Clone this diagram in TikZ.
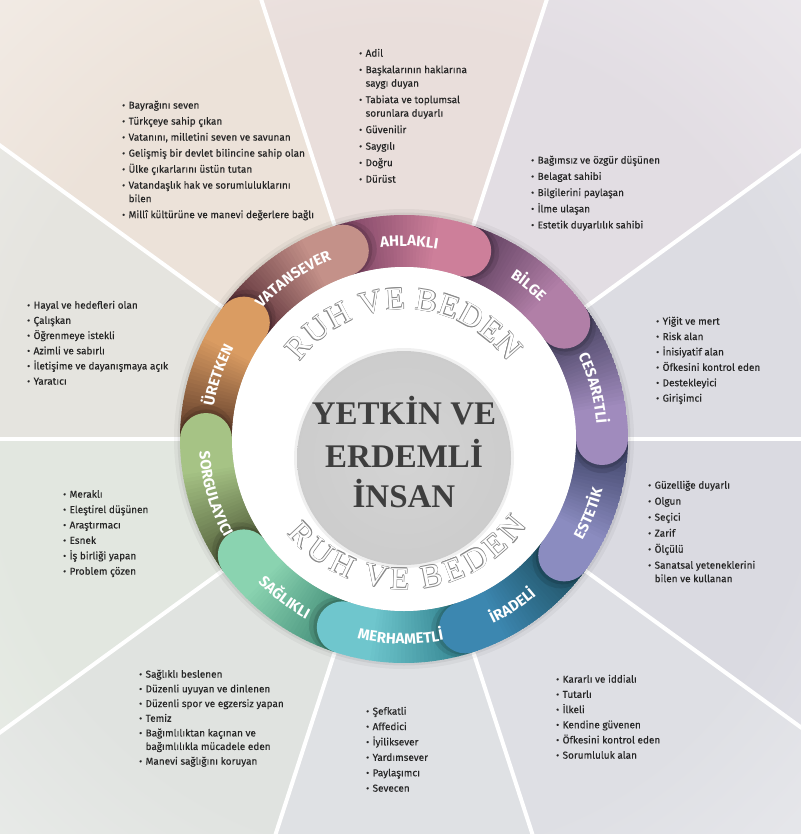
\documentclass[tikz,border=0pt]{standalone}
\usepackage{fontspec}
\setmainfont{Fira Sans}[UprightFeatures={FakeBold=0.3}]
\newfontfamily\serifT{Liberation Serif}

\definecolor{txt}{HTML}{262626}
\definecolor{ctr}{HTML}{3E3E3E}
\definecolor{ruhgray}{HTML}{8A8A8A}
% sector colours
\definecolor{sc0}{HTML}{DCDCE2}
\definecolor{sc1}{HTML}{E2DDE3}
\definecolor{sc2}{HTML}{E9DEDB}
\definecolor{sc3}{HTML}{ECE2D9}
\definecolor{sc4}{HTML}{E5E4DF}
\definecolor{sc5}{HTML}{E2E7E0}
\definecolor{sc6}{HTML}{E0E3E0}
\definecolor{sc7}{HTML}{DFE1E4}
\definecolor{sc8}{HTML}{DEDFE4}
\definecolor{sc9}{HTML}{DADAE1}
% ring colours (dark start / light end)
\definecolor{AHd}{HTML}{7A4262}\definecolor{AHl}{HTML}{CD7F9A}
\definecolor{BId}{HTML}{583A58}\definecolor{BIl}{HTML}{B17FA7}
\definecolor{CEd}{HTML}{433F5C}\definecolor{CEl}{HTML}{A08BBD}
\definecolor{ESd}{HTML}{3B4063}\definecolor{ESl}{HTML}{8B8CC0}
\definecolor{IRd}{HTML}{1F4F60}\definecolor{IRl}{HTML}{3C87B0}
\definecolor{MEd}{HTML}{2F7F8C}\definecolor{MEl}{HTML}{6FC6CD}
\definecolor{SAd}{HTML}{3F8A76}\definecolor{SAl}{HTML}{8AD3B0}
\definecolor{SOd}{HTML}{4F5A38}\definecolor{SOl}{HTML}{A6C385}
\definecolor{URd}{HTML}{5A3828}\definecolor{URl}{HTML}{DA9C62}
\definecolor{VAd}{HTML}{552A33}\definecolor{VAl}{HTML}{C49189}

\colorlet{secc}{sc0}
\pgfdeclareradialshading[secc]{secshade}{\pgfpoint{0bp}{0bp}}{color(0bp)=(secc); color(17bp)=(secc); color(44bp)=(white); color(50bp)=(white)}
\pgfdeclareradialshading{wdisk}{\pgfpoint{0bp}{0bp}}{color(0bp)=(white); color(42bp)=(white); color(50bp)=(black!10)}
\pgfdeclareradialshading{gdisk}{\pgfpoint{0bp}{0bp}}{color(0bp)=(black!17); color(35bp)=(black!21); color(50bp)=(black!32)}

\newcommand\labfont{\fontsize{15}{15}\selectfont\bfseries}
\newcommand\ruhfont{\serifT\fontsize{32}{32}\selectfont}
\newcommand\bul{\raisebox{0.05ex}{\fontsize{9}{9}\selectfont •}}

% ---- letter offsets of the ring labels, measured before the picture ----
\newdimen\arccum
\newdimen\arcdim
\newbox\arcbox
\newcommand\arcprepl[2]{% #1 list macro, #2 comma separated letters
  \setbox\arcbox\hbox{\labfont\foreach\cc in {#2}{\cc}}\arcdim=\wd\arcbox
  \xdef\arctot{\the\arcdim}%
  \global\arccum=0pt\relax
  \gdef\arclist{}\gdef\arcsep{}%
  \foreach \cc in {#2}{\expandafter\prepone\expandafter{\cc}}%
  \global\let#1\arclist}
\newcommand\prepone[1]{%
  \setbox\arcbox\hbox{\labfont #1}\arcdim=\wd\arcbox
  \pgfmathsetmacro\arcoff{\the\arccum+0.5*\the\arcdim-0.5*\arctot}%
  \xdef\arclist{\arclist\arcsep#1/\arcoff}\gdef\arcsep{,}%
  \global\advance\arccum by \arcdim\relax}
% placing them inside the picture
\newcommand\arcput[4]{% #1 list, #2 centre angle, #3 baseline radius, #4 direction
  \foreach \ch/\o in #1 {%
    \pgfmathsetmacro\arcang{#2+(#4)*\o/#3*57.29578}%
    \pgfmathsetmacro\arcrot{\arcang+(#4)*90}%
    \node[lab, rotate=\arcrot, anchor=base] at (\arcang:#3) {\ch};}}

\tikzset{
  lab/.style={font=\labfont, text=white, inner sep=0pt},
  ruhl/.style={font=\ruhfont, text=ruhgray, inner sep=0pt},
  ruhf/.style={font=\ruhfont, text=white, inner sep=0pt},
  ctext/.style={font=\serifT\bfseries\fontsize{33}{33}\selectfont, text=ctr, anchor=base, inner sep=0pt},
  lst/.style={anchor=north west, inner sep=0pt, font=\fontsize{10}{13.5}\selectfont, text=txt}
}

\begin{document}
\arcprepl\LAH{A,H,L,A,K,L,I}
\arcprepl\LBI{B,^^^^0130,L,G,E}
\arcprepl\LCE{C,E,S,A,R,E,T,L,^^^^0130}
\arcprepl\LUR{Ü,R,E,T,K,E,N}
\arcprepl\LVA{V,A,T,A,N,S,E,V,E,R}
\arcprepl\LES{E,S,T,E,T,^^^^0130,K}
\arcprepl\LIR{^^^^0130,R,A,D,E,L,^^^^0130}
\arcprepl\LME{M,E,R,H,A,M,E,T,L,^^^^0130}
\arcprepl\LSA{S,A,Ğ,L,I,K,L,I}
\arcprepl\LSO{S,O,R,G,U,L,A,Y,I,C,I}
\begin{tikzpicture}[x=1pt,y=-1pt]
\useasboundingbox (0,0) rectangle (800,834);
\fill[white] (0,0) rectangle (800,834);

\begin{scope}[shift={(404,439)},y=1pt]
  % background sectors
  \foreach \a/\c in {0/sc0,36/sc1,72/sc2,108/sc3,144/sc4,180/sc5,216/sc6,252/sc7,288/sc8,324/sc9}{
    \begin{scope}
      \colorlet{secc}{\c}
      \clip (0,0) -- (\a:900) -- (\a+36:900) -- cycle;
      \shade[shading=secshade] (0,0) circle (600);
    \end{scope}}
  % white rays
  \foreach \a in {0,36,...,324} \draw[white, line width=4] (\a:220) -- (\a:900);
  % ring shadow
  \fill[black, opacity=0.04] (0,0) circle (230);
  \fill[black, opacity=0.06] (0,0) circle (226.5);
  % ring
  \begin{scope}
    \clip (0,0) circle (224);
    \foreach \s/\dk/\lt in {108/AHd/AHl,72/BId/BIl,36/CEd/CEl,0/ESd/ESl,-36/IRd/IRl,-72/MEd/MEl,-108/SAd/SAl,-144/SOd/SOl,180/URd/URl,144/VAd/VAl}{
      \foreach \j in {0,...,35}{
        \pgfmathsetmacro\aa{\s-\j+0.25*(\j>0)}
        \pgfmathsetmacro\ab{\s-\j-1}
        \pgfmathtruncatemacro\p{min(100,100*\j/27)}
        \fill[\lt!\p!\dk] (\aa:224) arc[start angle=\aa,end angle=\ab,radius=224] -- (\ab:172) arc[start angle=\ab,end angle=\aa,radius=172] -- cycle;
      }}
    \foreach \e/\lt in {72/AHl,36/BIl,0/CEl,-36/ESl,-72/IRl,-108/MEl,-144/SAl,-180/SOl,144/URl,108/VAl}{
      \begin{scope}
        \clip (0,0) -- (\e:300) -- (\e-40:300) -- cycle;
        \fill[black, opacity=0.10] (\e-1.8:198) circle (28);
        \fill[black, opacity=0.12] (\e-0.9:198) circle (26.5);
      \end{scope}
      \fill[\lt] (\e:198) circle (26);
    }
  \end{scope}
  % inner discs
  \shade[shading=wdisk] (0,0) circle (172);
  \fill[black, opacity=0.06] (0,-19) circle (110);
  \shade[shading=gdisk] (0,-19) circle (107);

  % RUH VE BEDEN (outlined letters)
  \foreach \ch/\o in {R/-99.2,U/-78.35,H/-56.65,V/-27.45,E/-7.45,B/19.2,E/38.35,D/58.35,E/78.35,N/98.35}{
    \pgfmathsetmacro\ta{90-\o*0.49286}
    \pgfmathsetmacro\ba{-88+\o*0.49286}
    \foreach \dx/\dy in {0.55/0,-0.55/0,0/0.55,0/-0.55,0.39/0.39,-0.39/0.39,0.39/-0.39,-0.39/-0.39}{
      \node[ruhl, rotate=\ta-90] at ([shift={(\dx,\dy)}]\ta:140) {\ch};
      \node[ruhl, rotate=\ba+90] at ([shift={(\dx,\dy)}]\ba:140) {\ch};
    }
    \node[ruhf, rotate=\ta-90] at (\ta:140) {\ch};
    \node[ruhf, rotate=\ba+90] at (\ba:140) {\ch};
  }

  % centre text
  \node[ctext] (c1) at (0,15) {YETKİN VE};
  \node[ctext] (c2) at (0,-28) {ERDEMLİ};
  \node[ctext] (c3) at (0,-68) {İNSAN};

  % ring labels
  \arcput{\LAH}{88.5}{193}{-1}
  \arcput{\LBI}{51}{193}{-1}
  \arcput{\LCE}{15}{193}{-1}
  \arcput{\LUR}{161}{193}{-1}
  \arcput{\LVA}{125}{193}{-1}
  \arcput{\LES}{-22}{205}{1}
  \arcput{\LIR}{-57}{205}{1}
  \arcput{\LME}{-91}{205}{1}
  \arcput{\LSA}{-127}{205}{1}
  \arcput{\LSO}{-164}{205}{1}
\end{scope}

% lists
\node[lst] (ahlist) at (359,47) {\def\g{3pt}\begin{tabular}{@{}l@{\hspace{3.5pt}}l@{}}
\bul & Adil\\[\g]
\bul & Başkalarının haklarına\\
 & saygı duyan\\[\g]
\bul & Tabiata ve toplumsal\\
 & sorunlara duyarlı\\[\g]
\bul & Güvenilir\\[\g]
\bul & Saygılı\\[\g]
\bul & Doğru\\[\g]
\bul & Dürüst
\end{tabular}};

\node[lst] (valist) at (122,99) {\def\g{2.5pt}\begin{tabular}{@{}l@{\hspace{3.5pt}}l@{}}
\bul & Bayrağını seven\\[\g]
\bul & Türkçeye sahip çıkan\\[\g]
\bul & Vatanını, milletini seven ve savunan\\[\g]
\bul & Gelişmiş bir devlet bilincine sahip olan\\[\g]
\bul & Ülke çıkarlarını üstün tutan\\[\g]
\bul & Vatandaşlık hak ve sorumluluklarını\\
 & bilen\\[\g]
\bul & Millî kültürüne ve manevi değerlere bağlı
\end{tabular}};

\node[lst] (bilist) at (531,154) {\def\g{2.7pt}\begin{tabular}{@{}l@{\hspace{3.5pt}}l@{}}
\bul & Bağımsız ve özgür düşünen\\[\g]
\bul & Belagat sahibi\\[\g]
\bul & Bilgilerini paylaşan\\[\g]
\bul & İlme ulaşan\\[\g]
\bul & Estetik duyarlılık sahibi
\end{tabular}};

\node[lst] (urlist) at (27,299) {\def\g{1.7pt}\begin{tabular}{@{}l@{\hspace{3.5pt}}l@{}}
\bul & Hayal ve hedefleri olan\\[\g]
\bul & Çalışkan\\[\g]
\bul & Öğrenmeye istekli\\[\g]
\bul & Azimli ve sabırlı\\[\g]
\bul & İletişime ve dayanışmaya açık\\[\g]
\bul & Yaratıcı
\end{tabular}};

\node[lst] (celist) at (656,315) {\def\g{1.9pt}\begin{tabular}{@{}l@{\hspace{3.5pt}}l@{}}
\bul & Yiğit ve mert\\[\g]
\bul & Risk alan\\[\g]
\bul & İnisiyatif alan\\[\g]
\bul & Öfkesini kontrol eden\\[\g]
\bul & Destekleyici\\[\g]
\bul & Girişimci
\end{tabular}};

\node[lst] (solist) at (63,488) {\def\g{1.9pt}\begin{tabular}{@{}l@{\hspace{3.5pt}}l@{}}
\bul & Meraklı\\[\g]
\bul & Eleştirel düşünen\\[\g]
\bul & Araştırmacı\\[\g]
\bul & Esnek\\[\g]
\bul & İş birliği yapan\\[\g]
\bul & Problem çözen
\end{tabular}};

\node[lst] (eslist) at (648,479) {\def\g{2.5pt}\begin{tabular}{@{}l@{\hspace{3.5pt}}l@{}}
\bul & Güzelliğe duyarlı\\[\g]
\bul & Olgun\\[\g]
\bul & Seçici\\[\g]
\bul & Zarif\\[\g]
\bul & Ölçülü\\[\g]
\bul & Sanatsal yeteneklerini\\
 & bilen ve kullanan
\end{tabular}};

\node[lst] (salist) at (139,668) {\def\g{1.2pt}\begin{tabular}{@{}l@{\hspace{3.5pt}}l@{}}
\bul & Sağlıklı beslenen\\[\g]
\bul & Düzenli uyuyan ve dinlenen\\[\g]
\bul & Düzenli spor ve egzersiz yapan\\[\g]
\bul & Temiz\\[\g]
\bul & Bağımlılıktan kaçınan ve\\
 & bağımlılıkla mücadele eden\\[\g]
\bul & Manevi sağlığını koruyan
\end{tabular}};

\node[lst] (melist) at (366,705) {\def\g{1.9pt}\begin{tabular}{@{}l@{\hspace{3.5pt}}l@{}}
\bul & Şefkatli\\[\g]
\bul & Affedici\\[\g]
\bul & İyiliksever\\[\g]
\bul & Yardımsever\\[\g]
\bul & Paylaşımcı\\[\g]
\bul & Sevecen
\end{tabular}};

\node[lst] (irlist) at (556,673) {\def\g{1.7pt}\begin{tabular}{@{}l@{\hspace{3.5pt}}l@{}}
\bul & Kararlı ve iddialı\\[\g]
\bul & Tutarlı\\[\g]
\bul & İlkeli\\[\g]
\bul & Kendine güvenen\\[\g]
\bul & Öfkesini kontrol eden\\[\g]
\bul & Sorumluluk alan
\end{tabular}};
\end{tikzpicture}
\end{document}
